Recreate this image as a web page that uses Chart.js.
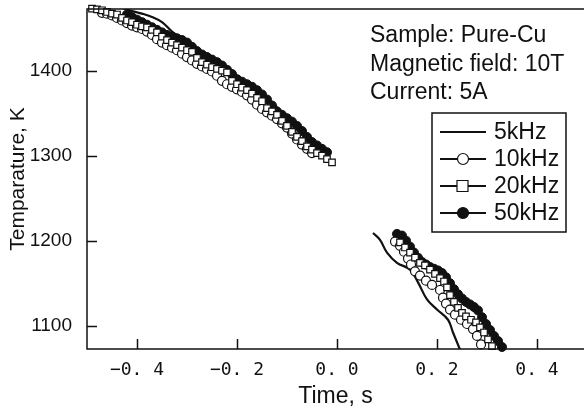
<!DOCTYPE html>
<html lang="en">
<head>
    <meta charset="UTF-8">
    <title>Temperature vs Time</title>
    <script src="https://cdn.jsdelivr.net/npm/chart.js"></script>
    <style>
        body, html {
            margin: 0;
            padding: 0;
            background: #fff;
            font-family: "Liberation Sans", Arial, sans-serif;
        }
        #wrap {
            width: 584px;
            height: 412px;
            overflow: hidden;
        }
    </style>
</head>
<body>
    <div id="wrap"><canvas id="chart" width="584" height="412"></canvas></div>

    <script>
        // Tick values and labels
        const xTicks = [-0.4, -0.2, 0.0, 0.2, 0.4];
        const xTickLabels = ['\u22120. 4', '\u22120. 2', '0. 0', '0. 2', '0. 4'];
        const yTicks = [1100, 1200, 1300, 1400];

        // 5kHz (solid line), before and after the gap
        const time5kA = [-0.43, -0.41, -0.39, -0.37, -0.35, -0.33, -0.31, -0.29, -0.27, -0.25, -0.23, -0.21, -0.19, -0.17, -0.15, -0.13, -0.11, -0.09, -0.07, -0.05, -0.03];
        const temp5kA = [1474, 1470, 1467, 1463, 1457, 1446, 1438, 1431, 1421, 1413, 1407, 1398, 1388, 1380, 1373, 1363, 1351, 1341, 1332, 1319, 1307];
        const time5kB = [0.072, 0.086, 0.1, 0.12, 0.146, 0.162, 0.18, 0.2, 0.222, 0.232, 0.246];
        const temp5kB = [1209, 1201, 1186, 1174, 1166, 1151, 1131, 1119, 1107, 1092, 1072];

        // 10kHz (open circles)
        const time10kA = [-0.47, -0.46, -0.45, -0.44, -0.43, -0.42, -0.41, -0.40, -0.39, -0.38, -0.37, -0.36, -0.35, -0.34, -0.33, -0.32, -0.31, -0.30, -0.29, -0.28, -0.27, -0.26, -0.25, -0.24, -0.23, -0.22, -0.21, -0.20, -0.19, -0.18, -0.17, -0.16, -0.15, -0.14, -0.13, -0.12, -0.11, -0.10, -0.09, -0.08, -0.07, -0.06, -0.05];
        const temp10kA = [1468, 1467, 1465, 1462, 1459, 1456, 1453, 1451, 1449, 1446, 1442, 1437, 1433, 1430, 1427, 1424, 1420, 1416, 1412, 1408, 1405, 1402, 1399, 1394, 1388, 1384, 1381, 1378, 1375, 1371, 1366, 1360, 1355, 1351, 1347, 1343, 1338, 1333, 1326, 1319, 1313, 1308, 1303];
        const time10kB = [0.116, 0.126, 0.134, 0.142, 0.148, 0.156, 0.166, 0.178, 0.19, 0.206, 0.212, 0.218, 0.226, 0.236, 0.248, 0.26, 0.272, 0.28, 0.288];
        const temp10kB = [1199, 1194, 1187, 1179, 1172, 1164, 1159, 1153, 1148, 1142, 1133, 1126, 1119, 1113, 1107, 1102, 1096, 1088, 1078];

        // 20kHz (open squares)
        const time20kA = [-0.49, -0.48, -0.47, -0.46, -0.45, -0.44, -0.43, -0.42, -0.41, -0.40, -0.39, -0.38, -0.37, -0.36, -0.35, -0.34, -0.33, -0.32, -0.31, -0.30, -0.29, -0.28, -0.27, -0.26, -0.25, -0.24, -0.23, -0.22, -0.21, -0.20, -0.19, -0.18, -0.17, -0.16, -0.15, -0.14, -0.13, -0.12, -0.11, -0.10, -0.09, -0.08, -0.07, -0.06, -0.05, -0.04, -0.03, -0.02, -0.01];
        const temp20kA = [1473, 1472, 1471, 1469, 1467, 1466, 1462, 1459, 1457, 1454, 1452, 1451, 1448, 1445, 1440, 1436, 1433, 1430, 1427, 1424, 1422, 1415, 1410, 1407, 1404, 1402, 1400, 1398, 1388, 1384, 1380, 1377, 1373, 1368, 1364, 1356, 1352, 1348, 1341, 1335, 1328, 1322, 1317, 1311, 1307, 1303, 1300, 1296, 1292];
        const time20kB = [0.126, 0.136, 0.146, 0.156, 0.166, 0.176, 0.186, 0.196, 0.206, 0.214, 0.22, 0.226, 0.234, 0.242, 0.25, 0.258, 0.268, 0.278, 0.286, 0.294, 0.302, 0.31];
        const temp20kB = [1198, 1192, 1186, 1180, 1174, 1171, 1166, 1161, 1156, 1152, 1145, 1136, 1128, 1121, 1115, 1111, 1107, 1104, 1098, 1092, 1084, 1076];

        // 50kHz (filled circles)
        const time50kA = [-0.42, -0.41, -0.40, -0.39, -0.38, -0.37, -0.36, -0.35, -0.34, -0.33, -0.32, -0.31, -0.30, -0.29, -0.28, -0.27, -0.26, -0.25, -0.24, -0.23, -0.22, -0.21, -0.20, -0.19, -0.18, -0.17, -0.16, -0.15, -0.14, -0.13, -0.12, -0.11, -0.10, -0.09, -0.08, -0.07, -0.06, -0.05, -0.04, -0.03, -0.02];
        const temp50kA = [1466, 1463, 1460, 1457, 1454, 1451, 1448, 1445, 1442, 1440, 1438, 1436, 1433, 1428, 1423, 1419, 1416, 1413, 1410, 1406, 1401, 1396, 1390, 1387, 1384, 1381, 1377, 1372, 1366, 1359, 1352, 1348, 1344, 1340, 1335, 1329, 1322, 1316, 1312, 1308, 1304];
        const time50kB = [0.12, 0.13, 0.138, 0.146, 0.154, 0.162, 0.17, 0.178, 0.186, 0.194, 0.202, 0.21, 0.218, 0.226, 0.234, 0.242, 0.25, 0.258, 0.266, 0.274, 0.282, 0.29, 0.298, 0.306, 0.314, 0.322, 0.33];
        const temp50kB = [1208, 1206, 1200, 1193, 1186, 1180, 1175, 1172, 1169, 1167, 1165, 1162, 1157, 1150, 1143, 1137, 1132, 1128, 1125, 1122, 1118, 1110, 1102, 1095, 1088, 1082, 1075];

        const annotationLines = ['Sample: Pure-Cu', 'Magnetic field: 10T', 'Current: 5A'];
        const legendLabels = ['5kHz', '10kHz', '20kHz', '50kHz'];

        // join two segments with a null point so the line breaks at the gap
        function joinSegments(tA, yA, tB, yB) {
            const pts = tA.map((t, i) => ({ x: t, y: yA[i] }));
            pts.push({ x: (tA[tA.length - 1] + tB[0]) / 2, y: null });
            return pts.concat(tB.map((t, i) => ({ x: t, y: yB[i] })));
        }

        const ink = '#111';

        // axes frame, inward ticks, annotation and legend
        const framePlugin = {
            id: 'frame',
            afterDraw(chart) {
                const ctx = chart.ctx;
                const area = chart.chartArea;
                const xs = chart.scales.x, ys = chart.scales.y;
                ctx.save();
                ctx.strokeStyle = ink;
                ctx.lineWidth = 1.5;
                ctx.beginPath();
                ctx.moveTo(area.right + 2, area.top);
                ctx.lineTo(area.left, area.top);
                ctx.lineTo(area.left, area.bottom);
                ctx.lineTo(area.right + 2, area.bottom);
                ctx.stroke();
                ctx.beginPath();
                xTicks.forEach(v => {
                    const px = Math.round(xs.getPixelForValue(v)) + 0.5;
                    ctx.moveTo(px, area.bottom);
                    ctx.lineTo(px, area.bottom - 10);
                });
                yTicks.forEach(v => {
                    const py = Math.round(ys.getPixelForValue(v)) + 0.5;
                    ctx.moveTo(area.left, py);
                    ctx.lineTo(area.left + 10, py);
                });
                ctx.stroke();

                // annotation text
                ctx.fillStyle = ink;
                ctx.font = '23px "Liberation Sans", Arial, sans-serif';
                ctx.textAlign = 'left';
                ctx.textBaseline = 'middle';
                annotationLines.forEach((s, i) => ctx.fillText(s, 370, 36 + i * 28.5));

                // legend
                const bx = 432, by = 113, bw = 134, bh = 119;
                ctx.lineWidth = 1.5;
                ctx.strokeRect(bx, by, bw, bh);
                const sets = chart.data.datasets;
                legendLabels.forEach((s, i) => {
                    const cy = 132 + i * 27;
                    ctx.lineWidth = 2;
                    ctx.strokeStyle = ink;
                    ctx.beginPath();
                    ctx.moveTo(440, cy);
                    ctx.lineTo(486, cy);
                    ctx.stroke();
                    const ds = sets.find(d => d.label === s);
                    if (ds.pointRadius > 0) {
                        ctx.lineWidth = 1.2;
                        ctx.fillStyle = ds.pointBackgroundColor;
                        ctx.beginPath();
                        if (ds.pointStyle === 'rect') {
                            ctx.rect(457, cy - 5.5, 11, 11);
                        } else {
                            ctx.arc(463, cy, 5.5, 0, Math.PI * 2);
                        }
                        ctx.fill();
                        ctx.stroke();
                    }
                    ctx.fillStyle = ink;
                    ctx.fillText(s, 494, cy + 1);
                });
                ctx.restore();
            }
        };

        new Chart(document.getElementById('chart'), {
            type: 'line',
            data: {
                datasets: [{
                    label: '20kHz',
                    data: joinSegments(time20kA, temp20kA, time20kB, temp20kB),
                    borderColor: ink,
                    borderWidth: 1,
                    pointStyle: 'rect',
                    pointRadius: 4.6,
                    pointBackgroundColor: '#fff',
                    pointBorderColor: ink,
                    pointBorderWidth: 1.2,
                    clip: false,
                    order: 0
                }, {
                    label: '10kHz',
                    data: joinSegments(time10kA, temp10kA, time10kB, temp10kB),
                    borderColor: ink,
                    borderWidth: 1,
                    pointStyle: 'circle',
                    pointRadius: 4.5,
                    pointBackgroundColor: '#fff',
                    pointBorderColor: ink,
                    pointBorderWidth: 1.2,
                    clip: false,
                    order: 1
                }, {
                    label: '50kHz',
                    data: joinSegments(time50kA, temp50kA, time50kB, temp50kB),
                    borderColor: ink,
                    borderWidth: 1,
                    pointStyle: 'circle',
                    pointRadius: 4.5,
                    pointBackgroundColor: ink,
                    pointBorderColor: ink,
                    pointBorderWidth: 1,
                    clip: false,
                    order: 2
                }, {
                    label: '5kHz',
                    data: joinSegments(time5kA, temp5kA, time5kB, temp5kB),
                    borderColor: ink,
                    borderWidth: 2.2,
                    pointRadius: 0,
                    tension: 0.4,
                    order: 3
                }]
            },
            options: {
                responsive: false,
                animation: false,
                devicePixelRatio: 1,
                spanGaps: false,
                layout: { autoPadding: false, padding: { top: 9, right: 0, left: 0, bottom: 0 } },
                plugins: {
                    legend: { display: false },
                    tooltip: { enabled: false }
                },
                elements: { point: { hoverRadius: 4.5 } },
                scales: {
                    x: {
                        type: 'linear',
                        min: -0.5,
                        max: 0.494,
                        afterBuildTicks: s => { s.ticks = xTicks.map(v => ({ value: v })); },
                        afterFit: s => { s.height = 63; s.paddingLeft = 0; s.paddingRight = 0; },
                        grid: { display: false },
                        border: { display: false },
                        ticks: {
                            autoSkip: false,
                            maxRotation: 0,
                            padding: 3,
                            color: ink,
                            font: { family: '"DejaVu Sans Mono", monospace', size: 18 },
                            callback: (v, i) => xTickLabels[i]
                        },
                        title: {
                            display: true,
                            text: 'Time, s',
                            color: ink,
                            font: { family: '"Liberation Sans", Arial, sans-serif', size: 23 },
                            padding: { top: 0, bottom: 2 }
                        }
                    },
                    y: {
                        min: 1072.6,
                        max: 1472.5,
                        afterBuildTicks: s => { s.ticks = yTicks.map(v => ({ value: v })); },
                        afterFit: s => { s.width = 87; s.paddingTop = 0; s.paddingBottom = 0; },
                        grid: { display: false },
                        border: { display: false },
                        ticks: {
                            padding: 7,
                            color: ink,
                            font: { family: '"Liberation Sans", Arial, sans-serif', size: 19 },
                            callback: v => String(v)
                        },
                        title: {
                            display: true,
                            text: 'Temparature, K',
                            color: ink,
                            font: { family: '"Liberation Sans", Arial, sans-serif', size: 21 },
                            padding: { top: 6, bottom: 0 }
                        }
                    }
                }
            },
            plugins: [framePlugin]
        });
    </script>
</body>
</html>
